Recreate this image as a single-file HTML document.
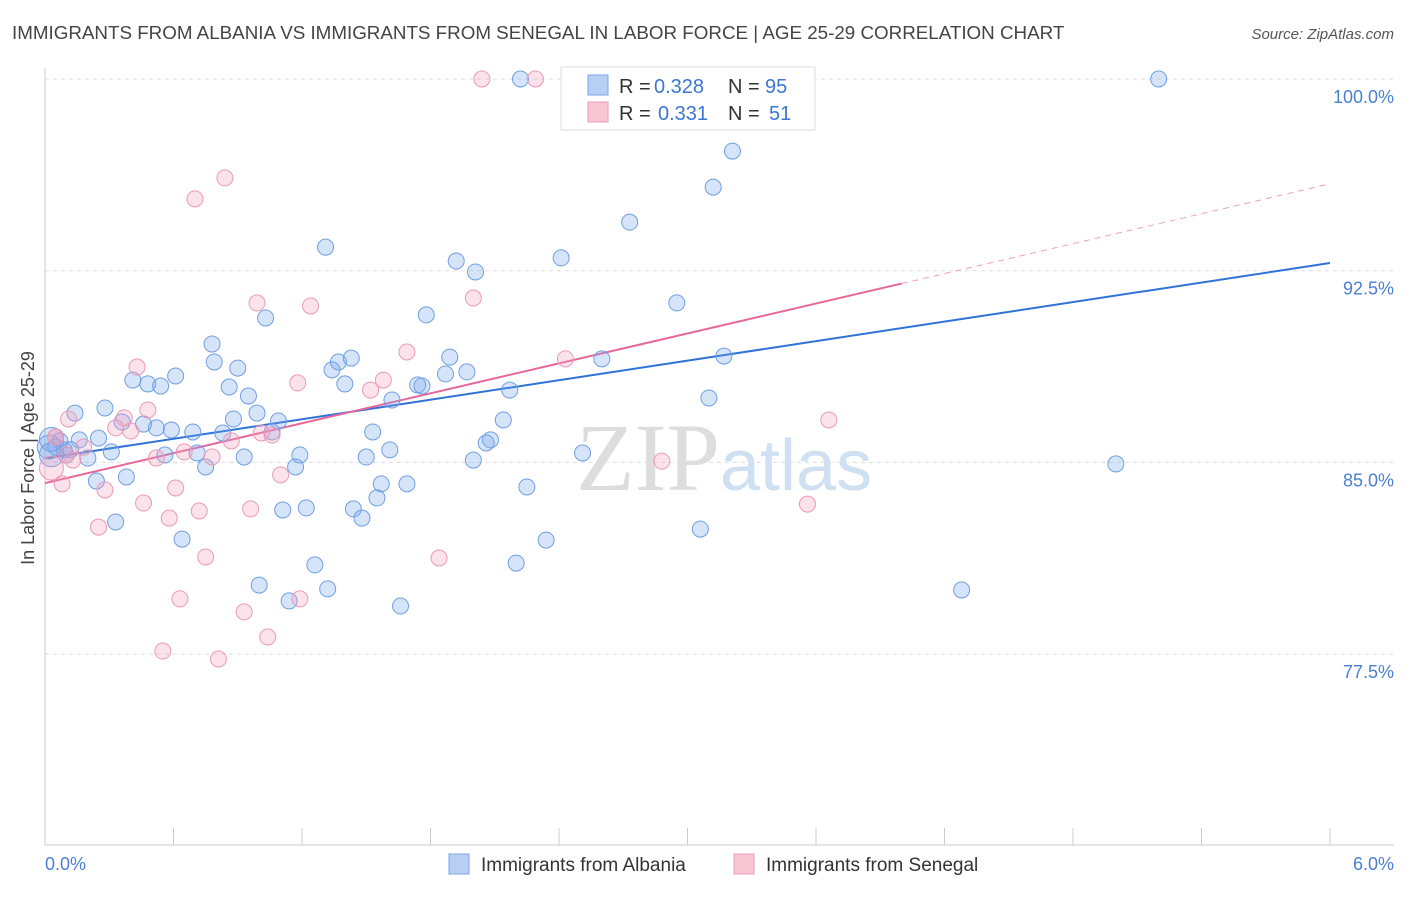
<!DOCTYPE html>
<html><head><meta charset="utf-8"><style>
body{margin:0;background:#fff;font-family:"Liberation Sans",sans-serif}
</style></head><body>
<svg id="chart" width="1406" height="892" xmlns="http://www.w3.org/2000/svg" font-family="Liberation Sans, sans-serif">
<text x="12" y="39" font-size="18.8" fill="#444">IMMIGRANTS FROM ALBANIA VS IMMIGRANTS FROM SENEGAL IN LABOR FORCE | AGE 25-29 CORRELATION CHART</text>
<text x="1394" y="39" font-size="15" fill="#555" font-style="italic" text-anchor="end">Source: ZipAtlas.com</text>
<text x="720" y="490" font-size="96" fill="#ddd" text-anchor="end" font-family="Liberation Serif, serif">ZIP</text>
<text x="720" y="490" font-size="72" fill="#cfe0f3">atlas</text>
<g id="grid"></g><g id="axes"></g><g id="lines"></g><g id="points"></g>
<text transform="translate(34,458) rotate(-90)" font-size="18" fill="#444" text-anchor="middle">In Labor Force | Age 25-29</text>
<text x="45" y="870" font-size="18" fill="#4a7fd6">0.0%</text>
<text x="1394" y="870" font-size="18" fill="#4a7fd6" text-anchor="end">6.0%</text>
<g>
<rect x="561" y="67" width="254" height="63" fill="#fff" stroke="#ddd"/>
<rect x="588" y="75" width="20" height="20" fill="#b7cff2" stroke="#7aa6e6"/>
<rect x="588" y="102" width="20" height="20" fill="#f9c6d5" stroke="#ee9ab5"/>
<text x="619" y="93" font-size="20" fill="#333">R =</text>
<text x="654" y="93" font-size="20" fill="#3b76d6">0.328</text>
<text x="728" y="93" font-size="20" fill="#333">N =</text>
<text x="765" y="93" font-size="20" fill="#3b76d6">95</text>
<text x="619" y="120" font-size="20" fill="#333">R =</text>
<text x="658" y="120" font-size="20" fill="#3b76d6">0.331</text>
<text x="728" y="120" font-size="20" fill="#333">N =</text>
<text x="769" y="120" font-size="20" fill="#3b76d6">51</text>
</g>
<g>
<rect x="449" y="854" width="20" height="20" fill="#b7cff2" stroke="#7aa6e6"/>
<text x="481" y="871" font-size="19" fill="#333">Immigrants from Albania</text>
<rect x="734" y="854" width="20" height="20" fill="#f9c6d5" stroke="#ee9ab5"/>
<text x="766" y="871" font-size="19" fill="#333">Immigrants from Senegal</text>
</g>
</svg>
<script>
const yTicks=[100,92.5,85,77.5];
const yTickLabels=["100.0%","92.5%","85.0%","77.5%"];
const xTicks=[0,0.6,1.2,1.8,2.4,3.0,3.6,4.2,4.8,5.4,6.0];
const albaniaX=[2.22,5.20,3.21,3.12,2.73,1.31,1.92,2.01,2.41,2.95,1.03,1.78,0.78,1.89,1.43,1.37,0.79,0.90,1.34,1.97,1.87,0.61,0.41,0.48,0.54,1.40,1.74,1.76,0.86,2.17,1.62,0.95,3.10,0.28,0.14,0.99,0.88,1.09,0.36,0.46,0.59,0.52,0.69,0.83,1.06,2.14,1.53,0.25,0.16,0.07,2.08,2.06,0.05,0.09,0.31,0.71,0.56,1.61,1.19,2.51,0.10,0.20,0.93,1.50,2.00,0.75,1.17,0.38,0.24,1.69,1.57,2.25,1.55,1.22,1.11,1.44,1.48,0.33,3.06,0.64,2.34,2.20,1.26,1.00,4.28,1.32,1.14,1.66,5.00,2.60,3.17,0.03,0.03,0.02,0.12];
const albaniaY=[100,100,97.18,95.77,94.4,93.42,92.88,92.45,93.0,91.24,90.65,90.77,89.63,89.12,89.08,88.93,88.93,88.69,88.62,88.54,88.46,88.38,88.22,88.07,87.99,88.07,88.03,87.99,87.95,87.83,87.44,87.6,87.52,87.13,86.93,86.93,86.7,86.62,86.58,86.5,86.27,86.35,86.19,86.15,86.19,86.66,86.19,85.95,85.88,85.84,85.88,85.76,85.6,85.49,85.41,85.37,85.29,85.49,85.29,85.37,85.29,85.17,85.21,85.21,85.09,84.82,84.82,84.43,84.27,84.16,84.16,84.04,83.61,83.22,83.14,83.18,82.82,82.67,82.39,82.0,81.96,81.06,80.99,80.2,80.01,80.05,79.58,79.38,84.94,89.05,89.16,85.9,85.3,85.6,85.5];
const senegalX=[2.04,2.29,2.70,0.84,0.70,0.99,1.24,2.00,1.69,2.43,0.43,1.18,1.58,1.52,0.37,0.48,0.11,0.05,0.18,0.40,1.01,0.87,1.06,0.33,0.65,0.52,0.78,0.13,0.03,3.66,2.88,1.10,0.28,0.08,0.61,0.46,0.72,0.96,0.58,0.25,3.56,0.75,1.84,0.63,1.19,0.93,0.55,0.81,1.04,0.05,0.10];
const senegalY=[100,100,99.96,96.13,95.31,91.24,91.12,91.43,89.32,89.05,88.73,88.11,88.22,87.83,86.74,87.05,86.7,85.99,85.6,86.23,86.15,85.84,86.07,86.35,85.41,85.17,85.21,85.09,84.78,86.66,85.05,84.51,83.92,84.16,84.0,83.41,83.1,83.18,82.82,82.47,83.37,81.3,81.26,79.66,79.66,79.15,77.62,77.31,78.17,86.0,85.3];
const albaniaTrend=[85.16,92.8];
const senegalTrend=[84.19,95.9];
const senegalSolidEnd=4.0;
const NS="http://www.w3.org/2000/svg";
const sx=v=>45+v*1285/6;
const sy=v=>79+(100-v)*191.7/7.5;
function mk(tag,attrs,parent){const e=document.createElementNS(NS,tag);for(const k in attrs)e.setAttribute(k,attrs[k]);document.getElementById(parent).appendChild(e);return e;}
yTicks.forEach((t,i)=>{
 const l=mk('line',{x1:45,x2:1394,y1:sy(t),y2:sy(t),stroke:'#ddd','stroke-dasharray':'4,4'},'grid');
 
 
 const tx=mk('text',{x:1394,y:sy(t)+24,'font-size':18,fill:'#4a7fd6','text-anchor':'end'},'grid');
 tx.textContent=yTickLabels[i];
 
 
});
const ax=mk('line',{x1:45,x2:1394,y1:845,y2:845,stroke:'#ccc'},'axes');


const ay=mk('line',{x1:45,x2:45,y1:68,y2:845,stroke:'#ccc'},'axes');


xTicks.forEach(t=>{
 const l=mk('line',{x1:sx(t),x2:sx(t),y1:828,y2:845,stroke:'#ccc'},'axes');
 
 
});
function pts(X,Y,fill,stroke,name){
 X.forEach((x,i)=>{
  const big=x<0.05?12:8;
  const c=mk('circle',{cx:sx(x),cy:sy(Y[i]),r:big,fill:fill,stroke:stroke,'stroke-width':1},'points');
  
  
 });
}
pts(albaniaX,albaniaY,'rgba(120,165,235,0.3)','#6f9fe2','albania-point');
pts(senegalX,senegalY,'rgba(245,160,190,0.3)','#eb9ab6','senegal-point');
const bl=mk('line',{x1:sx(0),y1:sy(albaniaTrend[0]),x2:sx(6),y2:sy(albaniaTrend[1]),stroke:'#2f72d8','stroke-width':2},'lines');


const slope=(senegalTrend[1]-senegalTrend[0])/6;
const pl=mk('line',{x1:sx(0),y1:sy(senegalTrend[0]),x2:sx(senegalSolidEnd),y2:sy(senegalTrend[0]+slope*senegalSolidEnd),stroke:'#e8679a','stroke-width':2},'lines');


const pd=mk('line',{x1:sx(senegalSolidEnd),y1:sy(senegalTrend[0]+slope*senegalSolidEnd),x2:sx(6),y2:sy(senegalTrend[1]),stroke:'#eea0bd','stroke-width':1,'stroke-dasharray':'6,5'},'lines');


</script>
</body></html>
